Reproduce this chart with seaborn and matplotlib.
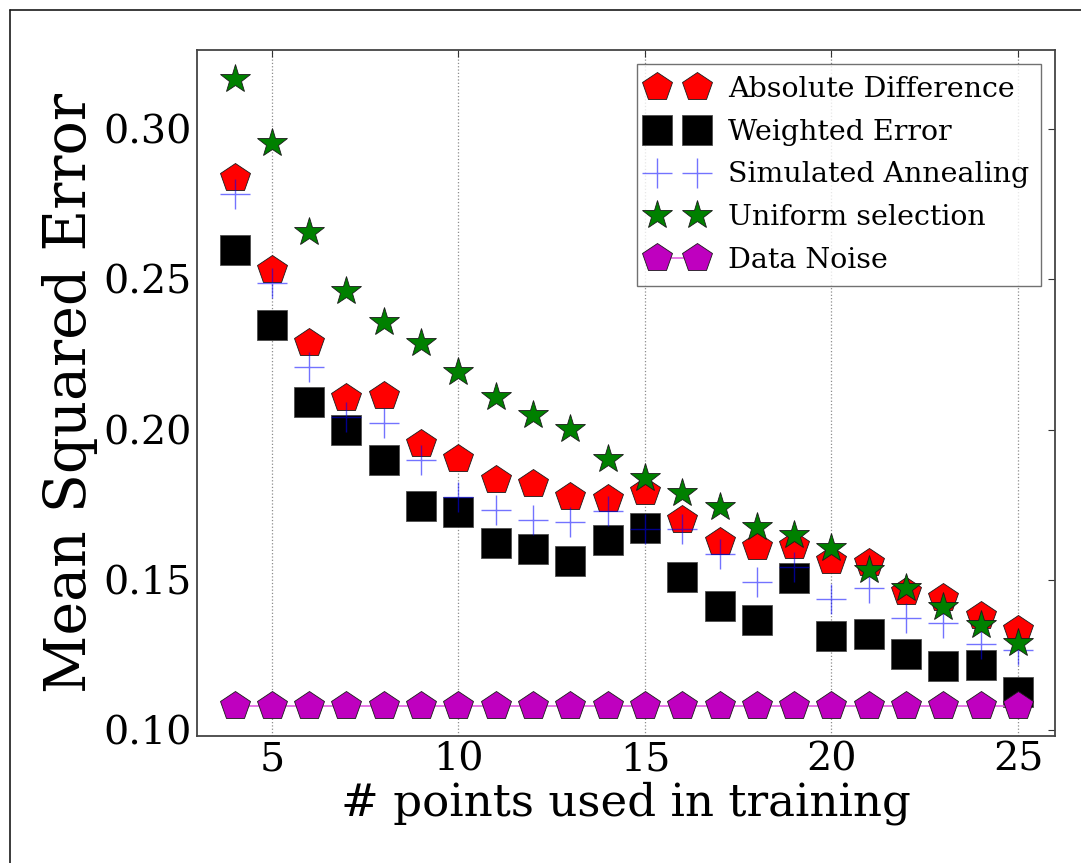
import numpy as np
import matplotlib
matplotlib.use('Agg')
import matplotlib.pyplot as plt
import seaborn as sns
from matplotlib.lines import Line2D

# values
n_points = list(range(4, 26))
abs_diff = [0.2836, 0.2531, 0.2289, 0.2106, 0.2112, 0.1953, 0.1901, 0.1832, 0.1819, 0.1776, 0.1768,
            0.1794, 0.1699, 0.1627, 0.1610, 0.1613, 0.1563, 0.1558, 0.1461, 0.1440, 0.1380, 0.1333]
weighted_err = [0.2599, 0.2349, 0.2092, 0.1998, 0.1898, 0.1746, 0.1726, 0.1622, 0.1602, 0.1564, 0.1634,
                0.1673, 0.1510, 0.1414, 0.1366, 0.1508, 0.1313, 0.1319, 0.1255, 0.1213, 0.1218, 0.1126]
sim_anneal = [0.2783, 0.2489, 0.2208, 0.2043, 0.2022, 0.1899, 0.1777, 0.1732, 0.1700, 0.1694, 0.1731,
              0.1670, 0.1669, 0.1586, 0.1492, 0.1544, 0.1436, 0.1474, 0.1373, 0.1356, 0.1287, 0.1267]
uniform_sel = [0.3165, 0.2953, 0.2657, 0.2462, 0.2357, 0.2289, 0.2193, 0.2110, 0.2049, 0.2001, 0.1901,
               0.1838, 0.1790, 0.1744, 0.1677, 0.1650, 0.1605, 0.1533, 0.1472, 0.1411, 0.1350, 0.1291]
data_noise = [0.1082] * 22

labels = ['Absolute Difference', 'Weighted Error', 'Simulated Annealing',
          'Uniform selection', 'Data Noise']
x_ticks = [5, 10, 15, 20, 25]
y_ticks = [0.10, 0.15, 0.20, 0.25, 0.30]

sns.set_theme(style='white')
plt.rcParams['font.family'] = ['DejaVu Serif']
plt.rcParams['text.color'] = 'black'
plt.rcParams['axes.labelcolor'] = 'black'
plt.rcParams['xtick.color'] = 'black'
plt.rcParams['ytick.color'] = 'black'

fig = plt.figure(figsize=(10.81, 8.63), dpi=100)
ax = fig.add_axes([0.1825, 0.1472, 0.7937, 0.7949])

# one lineplot per series, markers only (except the noise line)
sns.lineplot(x=n_points, y=abs_diff, ax=ax, label=labels[0], linestyle='none',
             marker='p', markersize=22, color='#ff0000', markeredgecolor='k', markeredgewidth=0.6)
sns.lineplot(x=n_points, y=weighted_err, ax=ax, label=labels[1], linestyle='none',
             marker='s', markersize=22, color='#000000', markeredgecolor='0.3', markeredgewidth=0.6)
sns.lineplot(x=n_points, y=sim_anneal, ax=ax, label=labels[2], linestyle='none',
             marker='+', markersize=22, color='#0000ff', markeredgecolor='#0000ff',
             markeredgewidth=1.0, alpha=0.55)
sns.lineplot(x=n_points, y=uniform_sel, ax=ax, label=labels[3], linestyle='none',
             marker='*', markersize=22, color='#008000', markeredgecolor='k', markeredgewidth=0.6)
sns.lineplot(x=n_points, y=data_noise, ax=ax, label=labels[4], linestyle='-', linewidth=1.2,
             marker='p', markersize=22, color='#e060e0', markerfacecolor='#bf00bf',
             markeredgecolor='k', markeredgewidth=0.6)

ax.set_xlim(3, 26)
ax.set_ylim(0.0981, 0.3263)
ax.set_xticks(x_ticks)
ax.set_yticks(y_ticks)
ax.set_yticklabels([f'{v:.2f}' for v in y_ticks])

ax.xaxis.grid(True, linestyle=':', color='0.55', linewidth=0.9)
ax.yaxis.grid(False)

for s in ax.spines.values():
    s.set_color('#444444')
    s.set_linewidth(1.3)
ax.tick_params(direction='in', top=True, right=True, length=5, width=0.8,
               color='#333333', labelsize=28.5, pad=4)

ax.set_xlabel('# points used in training', fontsize=32.5, labelpad=2)
ax.set_ylabel('Mean Squared Error', fontsize=41, labelpad=4)

leg = ax.legend(loc='upper right', numpoints=2, fontsize=20.5, frameon=True, fancybox=False,
                borderpad=0.4, labelspacing=0.56, handletextpad=0.8, handlelength=2.0,
                borderaxespad=0.5)
leg.get_frame().set_edgecolor('0.3')
leg.get_frame().set_linewidth(1.0)

# outer frame lines of the original screenshot
fig.add_artist(Line2D([0.0093, 1.0], [0.9884, 0.9884], transform=fig.transFigure, color='k', lw=1.2))
fig.add_artist(Line2D([0.0093, 0.0093], [0.0, 0.9884], transform=fig.transFigure, color='k', lw=1.2))

fig.savefig('out.png', dpi=100)
